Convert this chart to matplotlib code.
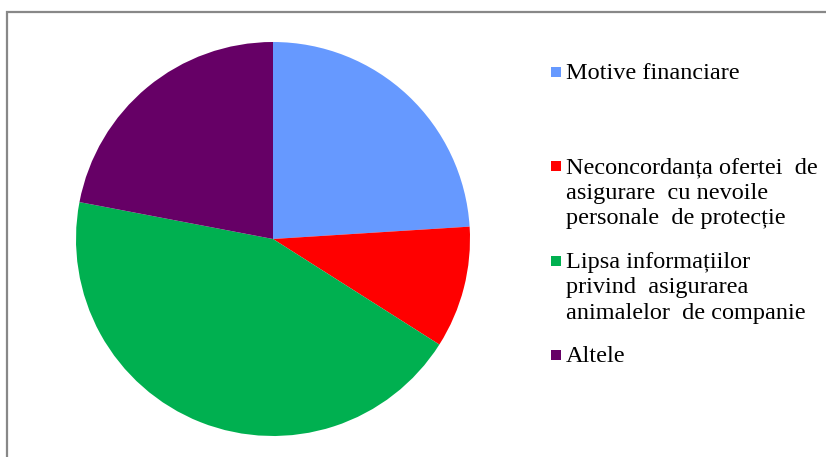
import matplotlib
matplotlib.use("Agg")
import matplotlib.pyplot as plt
from matplotlib.patches import Rectangle

labels = [
    "Motive financiare",
    "Neconcordanța ofertei  de\nasigurare  cu nevoile\npersonale  de protecție",
    "Lipsa informațiilor\nprivind  asigurarea\nanimalelor  de companie",
    "Altele",
]
values = [24, 10, 44, 22]
colors = ["#6699FF", "#FF0000", "#00B050", "#660066"]

W, H = 826, 457
fig = plt.figure(figsize=(W / 100, H / 100), dpi=100)

# pie: centre ~ (273, 238), radius ~197 px
ax = fig.add_axes([76 / W, 21 / H, 394 / W, 394 / H])
ax.pie(values, colors=colors, startangle=90, counterclock=False,
       wedgeprops=dict(linewidth=0))
ax.set_xlim(-1, 1)
ax.set_ylim(-1, 1)
ax.set_aspect("equal")

# cropped chart frame (only top and left edges visible)
fig.add_artist(Rectangle((7 / W, -0.2), 1.2, 1.2 - 12 / H,
                         transform=fig.transFigure, fill=False,
                         edgecolor="#888888", linewidth=1.6))

# manual legend
for i, (lab, col) in enumerate(zip(labels, colors)):
    yc = 72 + i * 94.3
    fig.add_artist(Rectangle((551 / W, 1 - (yc + 5) / H), 10 / W, 10 / H,
                             transform=fig.transFigure, facecolor=col,
                             edgecolor="none"))
    fig.text(566 / W, 1 - (yc - 9) / H, lab, ha="left", va="top",
             fontsize=17.5, family="Liberation Serif", linespacing=1.28)

fig.savefig("out.png", dpi=100)
